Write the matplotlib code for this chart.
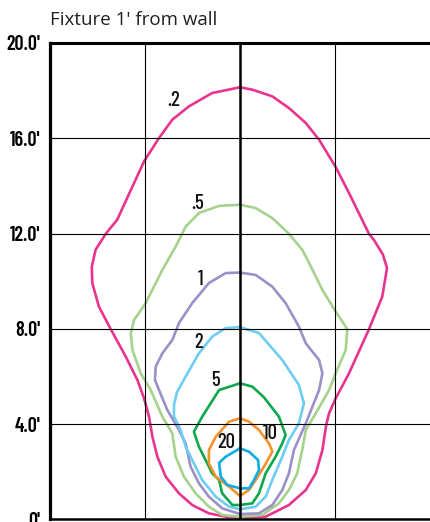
"""Isofootcandle plot: fixture 1' from wall (plan view, feet)."""
import matplotlib
matplotlib.use("Agg")
import matplotlib.pyplot as plt

# contour outlines in feet, traced from the top centre down the left side,
# across the bottom and back up the right side
fc02_x = [0, -1.17, -2.15, -2.85, -3.41, -4.04, -4.53, -5.17, -5.65, -6.08,
          -6.24, -6.22, -5.94, -5.44, -4.81, -4.32, -4.04, -3.83, -3.69,
          -3.48, -3.13, -2.57, -2.01, -1.31, -0.60, 0, 1.08, 1.50, 2.06,
          2.77, 3.19, 3.47, 3.63, 3.75, 4.03, 4.59, 5.43, 5.99, 6.19, 6.02,
          5.64, 5.43, 4.59, 4.03, 3.33, 2.77, 2.06, 1.36, 0.52]
fc02_y = [18.14, 17.90, 17.34, 16.78, 16.01, 15.03, 13.97, 12.58, 11.99,
          11.32, 10.61, 9.92, 8.93, 7.98, 6.83, 5.85, 5.08, 4.31, 3.47, 2.63,
          1.79, 1.09, 0.60, 0.25, 0.11, 0.07, 0.11, 0.32, 0.60, 1.23, 1.93,
          2.91, 3.96, 4.45, 5.08, 6.13, 7.98, 9.35, 10.55, 11.11, 11.73,
          11.99, 13.70, 14.79, 15.94, 16.64, 17.27, 17.76, 18.04]

fc05_x = [0, -0.88, -1.73, -2.29, -2.71, -3.27, -3.97, -4.46, -4.60, -4.53,
          -4.18, -3.76, -3.27, -2.85, -2.71, -2.36, -1.87, -1.31, -0.75, 0,
          0.94, 1.64, 2.06, 2.41, 2.62, 2.77, 3.19, 3.75, 4.03, 4.45, 4.52,
          4.03, 3.47, 2.91, 2.62, 2.06, 1.36, 0.66]
fc05_y = [13.21, 13.16, 12.86, 12.29, 11.45, 10.47, 9.08, 8.37, 7.82, 7.11,
          6.13, 5.43, 4.31, 3.61, 2.63, 1.79, 1.09, 0.53, 0.18, 0.11, 0.18,
          0.67, 1.23, 1.93, 2.91, 3.75, 4.45, 5.43, 6.13, 7.11, 7.98, 8.72,
          9.63, 10.76, 11.32, 11.99, 12.65, 13.07]

fc1_x = [0, -0.60, -1.31, -2.01, -2.57, -2.85, -3.27, -3.55, -3.58, -3.41,
         -3.06, -2.57, -2.29, -2.08, -1.73, -1.31, -0.75, 0, 0.80, 1.36, 1.78,
         2.06, 2.27, 2.77, 3.33, 3.47, 3.33, 2.77, 2.48, 1.92, 1.36, 0.66]
fc1_y = [10.36, 10.34, 9.92, 9.08, 8.24, 7.53, 6.97, 6.41, 5.85, 5.43, 4.59,
         3.75, 3.19, 2.21, 1.51, 0.95, 0.46, 0.22, 0.25, 0.60, 1.23, 1.93,
         2.91, 4.03, 5.43, 6.13, 6.69, 7.39, 8.09, 9.08, 9.77, 10.26]

fc2_x = [0, -0.60, -1.17, -1.73, -2.29, -2.65, -2.78, -2.78, -2.50, -2.29,
         -1.94, -1.59, -1.02, -0.46, 0, 0.66, 1.08, 1.36, 1.78, 2.06, 2.48,
         2.69, 2.48, 1.78, 0.80]
fc2_y = [8.07, 8.03, 7.67, 6.97, 5.99, 5.35, 4.80, 4.31, 3.75, 3.05, 2.35,
         1.65, 0.95, 0.53, 0.42, 0.53, 0.95, 1.65, 2.63, 3.33, 4.03, 4.87,
         5.64, 6.69, 7.82]

fc5_x = [0, -0.88, -1.59, -1.94, -1.73, -1.45, -1.17, -0.88, -0.75, -0.32, 0,
         0.52, 0.80, 1.08, 1.50, 1.78, 1.92, 1.64, 1.01, 0.52]
fc5_y = [5.71, 5.43, 4.31, 3.68, 3.05, 2.49, 1.93, 1.65, 1.09, 0.60, 0.60,
         0.67, 1.09, 1.93, 2.63, 3.19, 3.54, 4.31, 5.12, 5.57]

fc10_x = [0, -0.46, -1.02, -1.31, -1.31, -1.02, -0.46, 0, 0.38, 0.66, 1.01,
          1.36, 1.22, 0.80, 0.38]
fc10_y = [4.24, 4.10, 3.47, 2.91, 2.35, 1.79, 1.37, 0.98, 1.23, 1.65, 2.21,
          2.84, 3.19, 3.75, 4.10]

fc20_x = [0, -0.60, -0.88, -0.81, -0.53, 0, 0.38, 0.59, 0.80, 0.76, 0.38]
fc20_y = [2.98, 2.63, 2.37, 1.79, 1.44, 1.30, 1.30, 1.65, 2.07, 2.49, 2.84]

levels = [".2", ".5", "1", "2", "5", "10", "20"]
label_x = [-2.78, -1.80, -1.65, -1.73, -1.02, 1.29, -0.60]
label_y = [17.59, 13.28, 10.05, 7.42, 5.82, 3.61, 3.22]

y_ticks = [0, 4, 8, 12, 16, 20]
y_ticklabels = ["0'", "4.0'", "8.0'", "12.0'", "16.0'", "20.0'"]
x_grid = [-4, 4]

colors = ["#e8348e", "#a5d38d", "#9d8fc7", "#6dcdf3", "#0ea84c",
          "#f6922a", "#0aabe6"]

# condensed face for the numbers, falls back if it is missing
NARROW = ["Barlow Condensed", "Archivo Narrow", "Roboto", "DejaVu Sans"]


def main() -> None:
    fig = plt.figure(figsize=(4.30, 5.22), dpi=100)
    ax = fig.add_axes([50 / 430, 2.7 / 522, 380 / 430, 476.3 / 522])
    ax.set_xlim(-8, 8)
    ax.set_ylim(0, 20)

    outlines = [(fc02_x, fc02_y), (fc05_x, fc05_y), (fc1_x, fc1_y),
                (fc2_x, fc2_y), (fc5_x, fc5_y), (fc10_x, fc10_y),
                (fc20_x, fc20_y)]
    for (xs, ys), c in zip(outlines, colors):
        ax.plot(xs + xs[:1], ys + ys[:1], color=c, lw=1.9, zorder=2,
                solid_joinstyle="round")

    for t, x, y in zip(levels, label_x, label_y):
        ax.text(x, y, t, ha="center", va="center", fontsize=15,
                family=NARROW, fontweight="medium", color="#111111",
                zorder=4)

    # grid: thin black lines, thicker centre line under the fixture
    for y in y_ticks[1:-1]:
        ax.axhline(y, color="black", lw=0.8, zorder=3)
    for x in x_grid:
        ax.axvline(x, color="black", lw=0.8, zorder=3)
    ax.axvline(0, color="black", lw=1.8, zorder=3)

    ax.set_xticks([])
    ax.set_yticks(y_ticks)
    ax.set_yticklabels(y_ticklabels, family=NARROW, fontweight="semibold",
                       fontsize=14.5)
    ax.tick_params(axis="y", length=0, pad=7)
    ax.spines["left"].set_linewidth(2.3)
    ax.spines["top"].set_linewidth(2.2)
    ax.spines["bottom"].set_linewidth(1.8)
    ax.spines["right"].set_visible(False)

    fig.text(50 / 430, 1 - 25 / 522, "Fixture 1' from wall", ha="left",
             va="baseline", fontsize=13.5, family="Open Sans",
             color="#231f20")

    fig.savefig("out.png", dpi=100)


if __name__ == "__main__":
    main()
